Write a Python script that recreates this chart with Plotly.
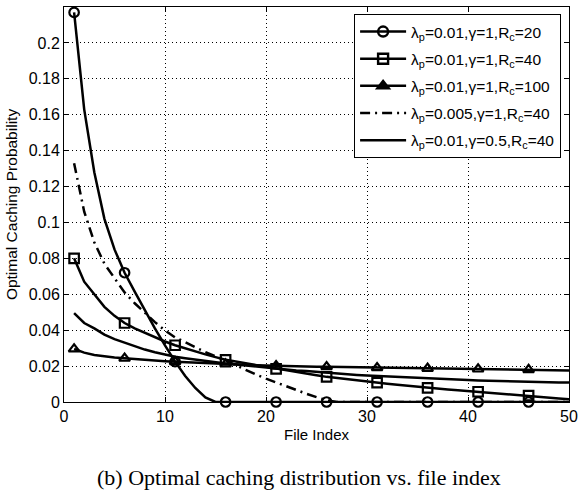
import plotly.graph_objects as go

# File indices 1..50
file_index = list(range(1, 51))

# Optimal caching probability per file, one list per parameter setting
p_rc20 = [0.217, 0.163, 0.128, 0.102, 0.085, 0.072, 0.0615, 0.051, 0.041, 0.0315,
          0.0225, 0.0145, 0.0078, 0.0025, 0.0, 0.0, 0.0, 0.0, 0.0, 0.0,
          0.0, 0.0, 0.0, 0.0, 0.0, 0.0, 0.0, 0.0, 0.0, 0.0,
          0.0, 0.0, 0.0, 0.0, 0.0, 0.0, 0.0, 0.0, 0.0, 0.0,
          0.0, 0.0, 0.0, 0.0, 0.0, 0.0, 0.0, 0.0, 0.0, 0.0]

p_rc40 = [0.080, 0.067, 0.060, 0.053, 0.048, 0.044, 0.041, 0.0385, 0.036, 0.0337,
          0.0316, 0.0298, 0.0281, 0.0265, 0.025, 0.0235, 0.0225, 0.0215, 0.0205, 0.0195,
          0.0185, 0.0176, 0.0167, 0.0158, 0.0149, 0.014, 0.0133, 0.0127, 0.012, 0.0114,
          0.0108, 0.0102, 0.0096, 0.009, 0.0084, 0.0079, 0.0075, 0.007, 0.0066, 0.0061,
          0.0057, 0.0053, 0.0048, 0.0044, 0.004, 0.0035, 0.003, 0.0025, 0.002, 0.0016]

p_rc100 = [0.0295, 0.0275, 0.0262, 0.0254, 0.0248, 0.0243, 0.0238, 0.0234, 0.0230, 0.0227,
           0.0224, 0.0221, 0.0218, 0.0215, 0.0213, 0.0211, 0.0209, 0.0207, 0.0205, 0.0203,
           0.0201, 0.0200, 0.0199, 0.0198, 0.0197, 0.0196, 0.0195, 0.0194, 0.0193, 0.0192,
           0.0191, 0.0190, 0.0189, 0.0188, 0.0188, 0.0187, 0.0186, 0.0185, 0.0185, 0.0184,
           0.0183, 0.0183, 0.0182, 0.0181, 0.0181, 0.0180, 0.0179, 0.0178, 0.0177, 0.0176]

p_lam005 = [0.133, 0.106, 0.089, 0.077, 0.069, 0.061, 0.055, 0.0495, 0.0445, 0.0398,
            0.036, 0.0333, 0.0305, 0.0278, 0.0254, 0.0232, 0.0205, 0.0178, 0.0153, 0.013,
            0.0108, 0.0088, 0.0066, 0.0046, 0.0027, 0.001, 0.0, 0.0, 0.0, 0.0,
            0.0, 0.0, 0.0, 0.0, 0.0, 0.0, 0.0, 0.0, 0.0, 0.0,
            0.0, 0.0, 0.0, 0.0, 0.0, 0.0, 0.0, 0.0, 0.0, 0.0]

p_gamma05 = [0.0495, 0.044, 0.041, 0.0375, 0.035, 0.033, 0.031, 0.0292, 0.0277, 0.0263,
             0.0252, 0.0244, 0.0236, 0.0229, 0.0222, 0.0215, 0.0209, 0.0203, 0.0197, 0.0191,
             0.0186, 0.0181, 0.0176, 0.0172, 0.0167, 0.0163, 0.0159, 0.0155, 0.0151, 0.0148,
             0.0145, 0.0142, 0.0139, 0.0136, 0.0133, 0.013, 0.0128, 0.0126, 0.0124, 0.0122,
             0.012, 0.0118, 0.0117, 0.0115, 0.0114, 0.0113, 0.0112, 0.011, 0.0109, 0.0108]

series_names = [
    "λ<sub>p</sub>=0.01,γ=1,R<sub>c</sub>=20",
    "λ<sub>p</sub>=0.01,γ=1,R<sub>c</sub>=40",
    "λ<sub>p</sub>=0.01,γ=1,R<sub>c</sub>=100",
    "λ<sub>p</sub>=0.005,γ=1,R<sub>c</sub>=40",
    "λ<sub>p</sub>=0.01,γ=0.5,R<sub>c</sub>=40",
]

x_ticks = [0, 10, 20, 30, 40, 50]
x_tick_labels = ["0", "10", "20", "30", "40", "50"]
y_ticks = [0, 0.02, 0.04, 0.06, 0.08, 0.1, 0.12, 0.14, 0.16, 0.18, 0.2]
y_tick_labels = ["0", "0.02", "0.04", "0.06", "0.08", "0.1", "0.12", "0.14", "0.16", "0.18", "0.2"]

# markers every 5th file, starting from file 1
marker_step = 5

W, H = 584, 495
L, R, T, B = 64, 9, 6, 93
PW, PH = W - L - R, H - T - B


def px_x(px):
    return (px - L) / PW


def px_y(py):
    return (H - B - py) / PH


SANS = "Liberation Sans, Arial, Helvetica, sans-serif"
LINE_W = 2.5
DASHDOT = "10px,5px,2px,5px"

styles = [
    dict(data=p_rc20, symbol="circle-open", legend_symbol="circle-open", dash="solid"),
    dict(data=p_rc40, symbol="square-open", legend_symbol="square-open", dash="solid"),
    dict(data=p_rc100, symbol="triangle-up-open", legend_symbol="triangle-up", dash="solid"),
    dict(data=p_lam005, symbol=None, legend_symbol=None, dash=DASHDOT),
    dict(data=p_gamma05, symbol=None, legend_symbol=None, dash="solid"),
]

fig = go.Figure()

for i, (name, st) in enumerate(zip(series_names, styles)):
    y = st["data"]
    fig.add_trace(go.Scatter(
        x=file_index, y=y, mode="lines",
        line=dict(color="black", width=LINE_W, dash=st["dash"]),
        showlegend=False, hoverinfo="skip", legendgroup=f"g{i}",
    ))
    if st["symbol"]:
        mx = file_index[::marker_step]
        my = y[::marker_step]
        fig.add_trace(go.Scatter(
            x=mx, y=my, mode="markers",
            marker=dict(symbol=st["symbol"], size=9.5, color="black",
                        line=dict(color="black", width=2.2)),
            cliponaxis=False, showlegend=False, legendgroup=f"g{i}",
        ))
    # legend entry
    fig.add_trace(go.Scatter(
        x=[None], y=[None],
        mode="lines+markers" if st["legend_symbol"] else "lines",
        name=name, legendgroup=f"g{i}",
        line=dict(color="black", width=LINE_W, dash=st["dash"]),
        marker=dict(symbol=st["legend_symbol"] or "circle", size=10, color="black",
                    line=dict(color="black", width=2.4)),
    ))

fig.update_xaxes(
    range=[0, 50], tickvals=x_ticks, ticktext=x_tick_labels,
    showline=True, linecolor="black", linewidth=1, mirror="ticks",
    ticks="inside", ticklen=5, tickcolor="black",
    showgrid=True, gridcolor="black", gridwidth=1, griddash="1px,3px",
    zeroline=False,
    tickfont=dict(family=SANS, size=16, color="black"),
    title=dict(text="File Index", font=dict(family=SANS, size=15, color="black"), standoff=5),
)
fig.update_yaxes(
    range=[0, 0.22], tickvals=y_ticks, ticktext=y_tick_labels,
    showline=True, linecolor="black", linewidth=1, mirror="ticks",
    ticks="inside", ticklen=5, tickcolor="black",
    showgrid=True, gridcolor="black", gridwidth=1, griddash="1px,3px",
    zeroline=False,
    tickfont=dict(family=SANS, size=16, color="black"),
    title=dict(text="Optimal Caching Probability", font=dict(family=SANS, size=15.5, color="black"), standoff=7),
)

fig.add_annotation(
    text="(b) Optimal caching distribution vs. file index",
    xref="paper", yref="paper", x=px_x(302), y=px_y(478),
    xanchor="center", yanchor="middle", showarrow=False,
    font=dict(family="Liberation Serif, Times New Roman, serif", size=22, color="black"),
)

fig.update_layout(
    width=W, height=H,
    margin=dict(l=L, r=R, t=T, b=B),
    paper_bgcolor="white", plot_bgcolor="white",
    legend=dict(
        x=px_x(567), y=px_y(13), xanchor="right", yanchor="top",
        bgcolor="white", bordercolor="black", borderwidth=1,
        font=dict(family=SANS, size=15.5, color="black"),
        traceorder="grouped", tracegroupgap=4, itemwidth=46,
    ),
)

fig.write_html("out.html")
